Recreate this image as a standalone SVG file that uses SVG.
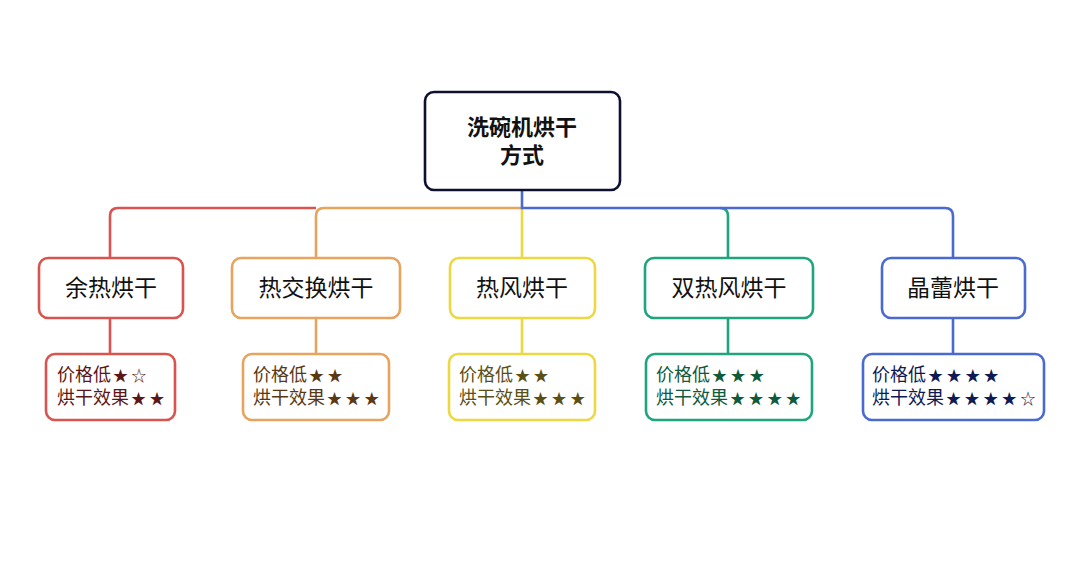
<svg xmlns="http://www.w3.org/2000/svg" width="1080" height="562" viewBox="0 0 1080 562">
<style>
.box{fill:#fff;stroke-width:2.6}
.ln{fill:none;stroke-width:2.6}
.t{font-family:"Noto Sans CJK SC","Noto Sans",sans-serif;text-anchor:middle;fill:#111}
.lbl{font-size:23px}
.root{font-size:22px;font-weight:bold}
.d{font-family:"Noto Sans CJK SC","Noto Sans",sans-serif;font-size:18px}
.s{font-size:15px;letter-spacing:3.6px}
.red{stroke:#d9534f}.org{stroke:#e6a45e}.yel{stroke:#ecd840}.grn{stroke:#1fa57c}.blu{stroke:#4a6ad0}
</style>
<rect width="1080" height="562" fill="#fff"/>
<g id="connectors">
<path class="ln red" d="M110,258 V216 Q110,208 118,208 H316"/>
<path class="ln org" d="M316,258 V216 Q316,208 324,208 H522"/>
<path class="ln yel" d="M522,208 V258"/>
<path class="ln grn" d="M728,258 V216 Q728,208 720,208"/>
<path class="ln blu" d="M522,190 V208 H945 Q953,208 953,216 V258"/>
<path class="ln red" d="M110,318 V354"/>
<path class="ln org" d="M316,318 V354"/>
<path class="ln yel" d="M522,318 V354"/>
<path class="ln grn" d="M728,318 V354"/>
<path class="ln blu" d="M953,318 V354"/>
</g>
<g id="root">
<rect class="box" x="425" y="92" width="195" height="98" rx="9" stroke="#0e1030" stroke-width="3"/>
<text class="t root" x="522" y="135">洗碗机烘干</text>
<text class="t root" x="522" y="163">方式</text>
</g>
<g id="n1">
<rect class="box red" x="39" y="258" width="144" height="60" rx="9"/>
<text class="t lbl" x="111" y="296">余热烘干</text>
</g>
<g id="n2">
<rect class="box org" x="232" y="258" width="168" height="60" rx="9"/>
<text class="t lbl" x="316" y="296">热交换烘干</text>
</g>
<g id="n3">
<rect class="box yel" x="450" y="258" width="145" height="60" rx="9"/>
<text class="t lbl" x="522" y="296">热风烘干</text>
</g>
<g id="n4">
<rect class="box grn" x="645" y="258" width="168" height="60" rx="9"/>
<text class="t lbl" x="729" y="296">双热风烘干</text>
</g>
<g id="n5">
<rect class="box blu" x="882" y="258" width="143" height="60" rx="9"/>
<text class="t lbl" x="953" y="296">晶蕾烘干</text>
</g>
<g id="d1">
<rect class="box red" x="46" y="354" width="129" height="66" rx="9"/>
<text class="d" x="57" y="381" fill="#5c1616">价格低<tspan class="s" dx="2">★☆</tspan></text>
<text class="d" x="57" y="404" fill="#5c1616">烘干效果<tspan class="s" dx="2">★★</tspan></text>
</g>
<g id="d2">
<rect class="box org" x="243" y="354" width="146" height="66" rx="9"/>
<text class="d" x="253" y="381" fill="#5a3814">价格低<tspan class="s" dx="2">★★</tspan></text>
<text class="d" x="253" y="404" fill="#5a3814">烘干效果<tspan class="s" dx="2">★★★</tspan></text>
</g>
<g id="d3">
<rect class="box yel" x="449" y="354" width="146" height="66" rx="9"/>
<text class="d" x="459" y="381" fill="#5a5014">价格低<tspan class="s" dx="2">★★</tspan></text>
<text class="d" x="459" y="404" fill="#5a5014">烘干效果<tspan class="s" dx="2">★★★</tspan></text>
</g>
<g id="d4">
<rect class="box grn" x="646" y="354" width="166" height="66" rx="9"/>
<text class="d" x="656" y="381" fill="#0f5a3c">价格低<tspan class="s" dx="2">★★★</tspan></text>
<text class="d" x="656" y="404" fill="#0f5a3c">烘干效果<tspan class="s" dx="2">★★★★</tspan></text>
</g>
<g id="d5">
<rect class="box blu" x="863" y="354" width="181" height="66" rx="9"/>
<text class="d" x="872" y="381" fill="#0f1a52">价格低<tspan class="s" dx="2">★★★★</tspan></text>
<text class="d" x="872" y="404" fill="#0f1a52">烘干效果<tspan class="s" dx="2">★★★★☆</tspan></text>
</g>
</svg>
